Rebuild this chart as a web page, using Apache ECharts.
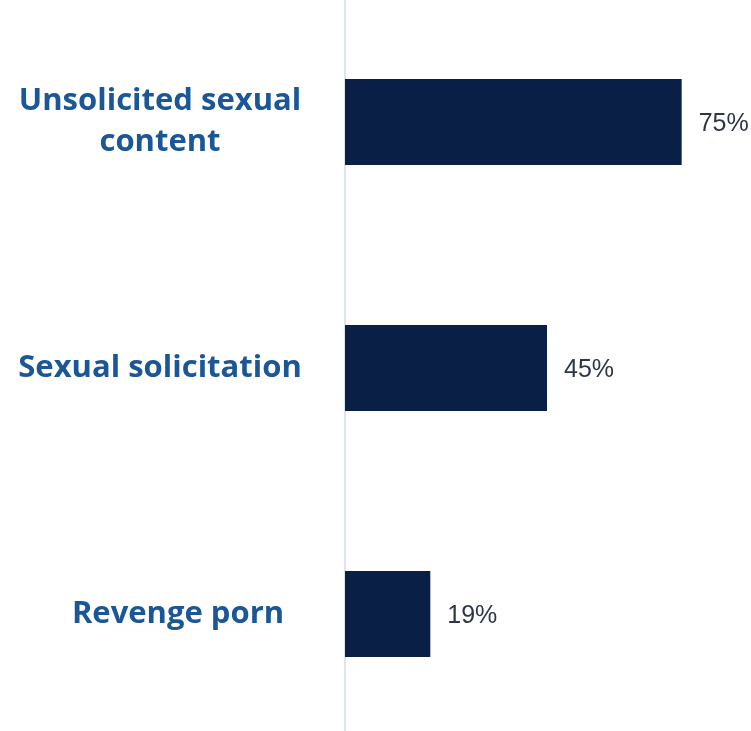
<!DOCTYPE html>
<html>
<head>
<meta charset="utf-8">
<script src="https://cdn.jsdelivr.net/npm/echarts@6/dist/echarts.min.js"></script>
<style>
  html, body { margin: 0; padding: 0; background: #ffffff; }
  #chart { width: 751px; height: 731px; }
</style>
</head>
<body>
<div id="chart"></div>
<script>
// Categories listed top to bottom
const categories = ['Unsolicited sexual\ncontent', 'Sexual solicitation', 'Revenge porn'];
// Share of respondents (%)
const values = [75, 45, 19];

const labelFont = '"Open Sans", sans-serif';

const chart = echarts.init(document.getElementById('chart'));

chart.setOption({
  animation: false,
  backgroundColor: '#ffffff',
  grid: { left: 345, right: 2, top: -1, height: 738, containLabel: false, outerBoundsMode: 'none' },
  xAxis: {
    type: 'value',
    min: 0,
    max: 90,
    show: false
  },
  yAxis: {
    type: 'category',
    inverse: true,
    data: categories,
    axisLine: { show: true, lineStyle: { color: '#d9e6ea', width: 2 } },
    axisTick: { show: false },
    axisLabel: {
      align: 'center',
      margin: 185,
      color: '#1b5797',
      fontFamily: labelFont,
      fontWeight: 'bold',
      fontSize: 31,
      lineHeight: 41,
      formatter: function (v) {
        return v === 'Revenge porn' ? '{shift|' + v + '}' : v;
      },
      rich: {
        shift: {
          color: '#1b5797',
          fontFamily: labelFont,
          fontWeight: 'bold',
          fontSize: 31,
          padding: [0, 0, 0, 36]
        }
      }
    }
  },
  series: [{
    type: 'bar',
    data: values,
    barWidth: '35%',
    itemStyle: { color: '#0a1f45' },
    label: {
      show: true,
      position: 'right',
      distance: 17,
      offset: [0, 2],
      formatter: '{c}%',
      color: '#2d3547',
      fontFamily: '"Liberation Sans", Arial, sans-serif',
      fontSize: 25
    }
  }]
});
</script>
</body>
</html>
